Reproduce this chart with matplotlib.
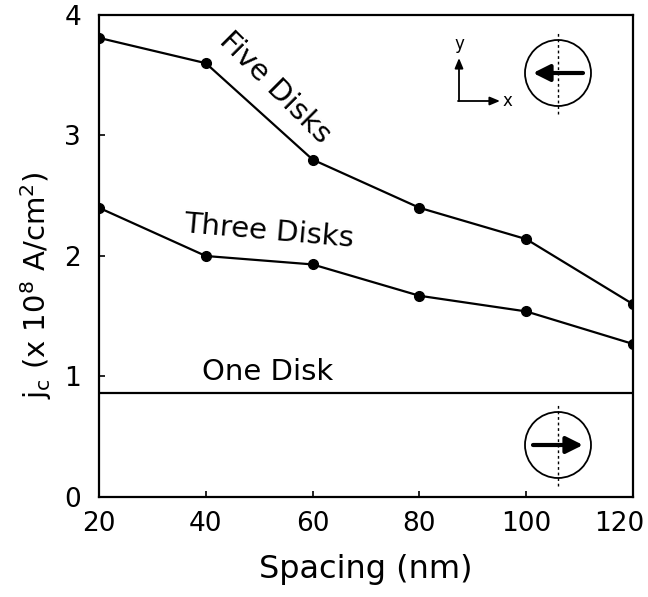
import matplotlib
matplotlib.use('Agg')
import matplotlib.pyplot as plt
import matplotlib.transforms as mtransforms
from matplotlib.patches import Circle

# data
spacing = [20, 40, 60, 80, 100, 120]
five_disks = [3.81, 3.60, 2.80, 2.40, 2.14, 1.60]
three_disks = [2.40, 2.00, 1.93, 1.67, 1.54, 1.27]
one_disk = 0.86

x_ticks = [20, 40, 60, 80, 100, 120]
y_ticks = [0, 1, 2, 3, 4]

plt.rcParams['font.family'] = ['DejaVu Sans']
plt.rcParams['mathtext.fontset'] = 'dejavusans'

fig = plt.figure(figsize=(6.48, 5.97), dpi=100)
ax = fig.add_axes([0.1528, 0.1675, 0.8241, 0.8074])

ax.plot(spacing, five_disks, '-o', color='black', lw=1.6, ms=7)
ax.plot(spacing, three_disks, '-o', color='black', lw=1.6, ms=7)
ax.axhline(one_disk, color='black', lw=1.6)

ax.set_xlim(20, 120)
ax.set_ylim(0, 4)
ax.set_xticks(x_ticks)
ax.set_yticks(y_ticks)
ax.tick_params(direction='in', length=4, width=1.2, labelsize=19)
ax.tick_params(axis='x', pad=10)
ax.tick_params(axis='y', pad=13)
for s in ax.spines.values():
    s.set_linewidth(1.6)

# last x label sits a bit left so it stays inside the figure
last = ax.get_xticklabels()[-1]
last.set_transform(last.get_transform() +
                   mtransforms.ScaledTranslation(-14 / 100, 0, fig.dpi_scale_trans))

ax.set_xlabel('Spacing (nm)', fontsize=23, labelpad=12)
ax.set_ylabel(r'j$_\mathrm{c}$ (x 10$^8$ A/cm$^2$)', fontsize=21)
ax.yaxis.set_label_coords(-0.085, 0.44)

ax.text(53.0, 3.40, 'Five Disks', fontsize=21, rotation=-45,
        ha='center', va='center')
ax.text(51.8, 2.20, 'Three Disks', fontsize=21, rotation=-5,
        ha='center', va='center')
ax.text(51.6, 1.04, 'One Disk', fontsize=21, ha='center', va='center')


def disk_icon(center_px, direction):
    # small inset axes with an equal aspect so the circle stays round
    size = 96
    cx, cy = center_px
    left = (cx - size / 2) / 648
    bottom = (597 - cy - size / 2) / 597
    iax = fig.add_axes([left, bottom, size / 648, size / 597])
    iax.set_xlim(-48, 48)
    iax.set_ylim(-48, 48)
    iax.set_aspect('equal')
    iax.axis('off')
    iax.add_patch(Circle((0, 0), 33, fill=False, lw=1.3, color='black'))
    iax.plot([0, 0], [-41, 41], ls=(0, (2, 2)), color='black', lw=1)
    if direction < 0:
        start, end = (25, 0), (-25, 0)
    else:
        start, end = (-25, 0), (25, 0)
    iax.annotate('', xy=end, xytext=start,
                 arrowprops=dict(arrowstyle='-|>,head_length=1.0,head_width=0.5',
                                 color='black', lw=3, shrinkA=0, shrinkB=0))


disk_icon((558, 73), -1)
disk_icon((558, 445), 1)

# coordinate frame
ax.annotate('', xy=(459 / 648, (597 - 58) / 597), xytext=(459 / 648, (597 - 101) / 597),
            xycoords='figure fraction', textcoords='figure fraction',
            arrowprops=dict(arrowstyle='-|>,head_length=0.6,head_width=0.25',
                            color='black', lw=1.3, shrinkA=0, shrinkB=0))
ax.annotate('', xy=(500 / 648, (597 - 101) / 597), xytext=(458 / 648, (597 - 101) / 597),
            xycoords='figure fraction', textcoords='figure fraction',
            arrowprops=dict(arrowstyle='-|>,head_length=0.6,head_width=0.25',
                            color='black', lw=1.3, shrinkA=0, shrinkB=0))
fig.text(459 / 648, (597 - 44) / 597, 'y', fontsize=12, ha='center', va='center')
fig.text(507 / 648, (597 - 101) / 597, 'x', fontsize=12, ha='center', va='center')

fig.savefig('out.png', dpi=100)
